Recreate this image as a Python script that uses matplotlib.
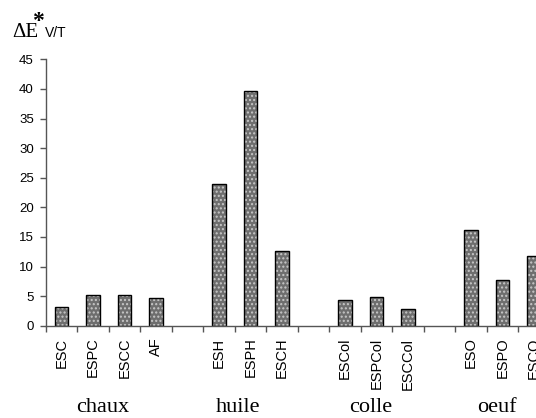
import matplotlib
matplotlib.use("Agg")
import matplotlib.pyplot as plt
import numpy as np

labels = ["ESC", "ESPC", "ESCC", "AF", "", "ESH", "ESPH", "ESCH", "",
          "ESCol", "ESPCol", "ESCCol", "", "ESO", "ESPO", "ESCO"]
values = [3.1, 5.2, 5.2, 4.6, None, 24.0, 39.7, 12.6, None,
          4.3, 4.9, 2.8, None, 16.1, 7.8, 11.7]
groups = ["chaux", "huile", "colle", "oeuf"]
group_pos = [1.3, 5.6, 9.83, 13.84]
yticks = [0, 5, 10, 15, 20, 25, 30, 35, 40, 45]

W, H = 536, 418
fig = plt.figure(figsize=(W / 100, H / 100), dpi=100)
ax = fig.add_axes([45.7 / W, 92.3 / H, 504 / W, 266.4 / H])

x = np.arange(len(labels))
idx = [i for i, v in enumerate(values) if v is not None]
xs = x[idx]
vs = [values[i] for i in idx]
ax.bar(xs, vs, width=0.42, color="#6e6e6e", edgecolor="#c8c8c8",
       hatch="....", linewidth=0)
ax.bar(xs, vs, width=0.42, fill=False, edgecolor="black", linewidth=1.0)

ax.set_xlim(-0.5, len(labels) - 0.5)
ax.set_ylim(0, 45)
ax.set_yticks(yticks)
ax.set_yticklabels([str(t) for t in yticks], fontfamily="Liberation Sans", fontsize=9.5)
ax.tick_params(axis="y", length=4, width=1, color="#555555", pad=4.5)

ax.set_xticks(x)
ax.set_xticklabels(labels, rotation=90, fontfamily="Liberation Sans", fontsize=10.5, va="top")
ax.tick_params(axis="x", which="major", length=0, pad=8.5)
ax.set_xticks(np.arange(-0.5, len(labels) + 0.5, 1.0), minor=True)
ax.tick_params(axis="x", which="minor", length=4, width=1, color="#555555")

for s in ["top", "right"]:
    ax.spines[s].set_visible(False)
for s in ["left", "bottom"]:
    ax.spines[s].set_color("#555555")
    ax.spines[s].set_linewidth(1)

gy = (325.7 - 412.5) / 266.4
for g, p in zip(groups, group_pos):
    ax.text(p, gy, g, transform=ax.get_xaxis_transform(), ha="center", va="baseline",
            fontfamily="Liberation Serif", fontsize=16)

fig.text(12 / W, 1 - 37 / H, "ΔE", fontfamily="Liberation Serif", fontsize=15,
         ha="left", va="baseline")
fig.text(38 / W, 1 - 27 / H, "*", fontfamily="Liberation Serif", fontsize=17,
         fontweight="bold", ha="center", va="baseline")
fig.text(45 / W, 1 - 37 / H, "V/T", fontfamily="Liberation Sans", fontsize=10,
         ha="left", va="baseline")

fig.savefig("out.png", dpi=100)
